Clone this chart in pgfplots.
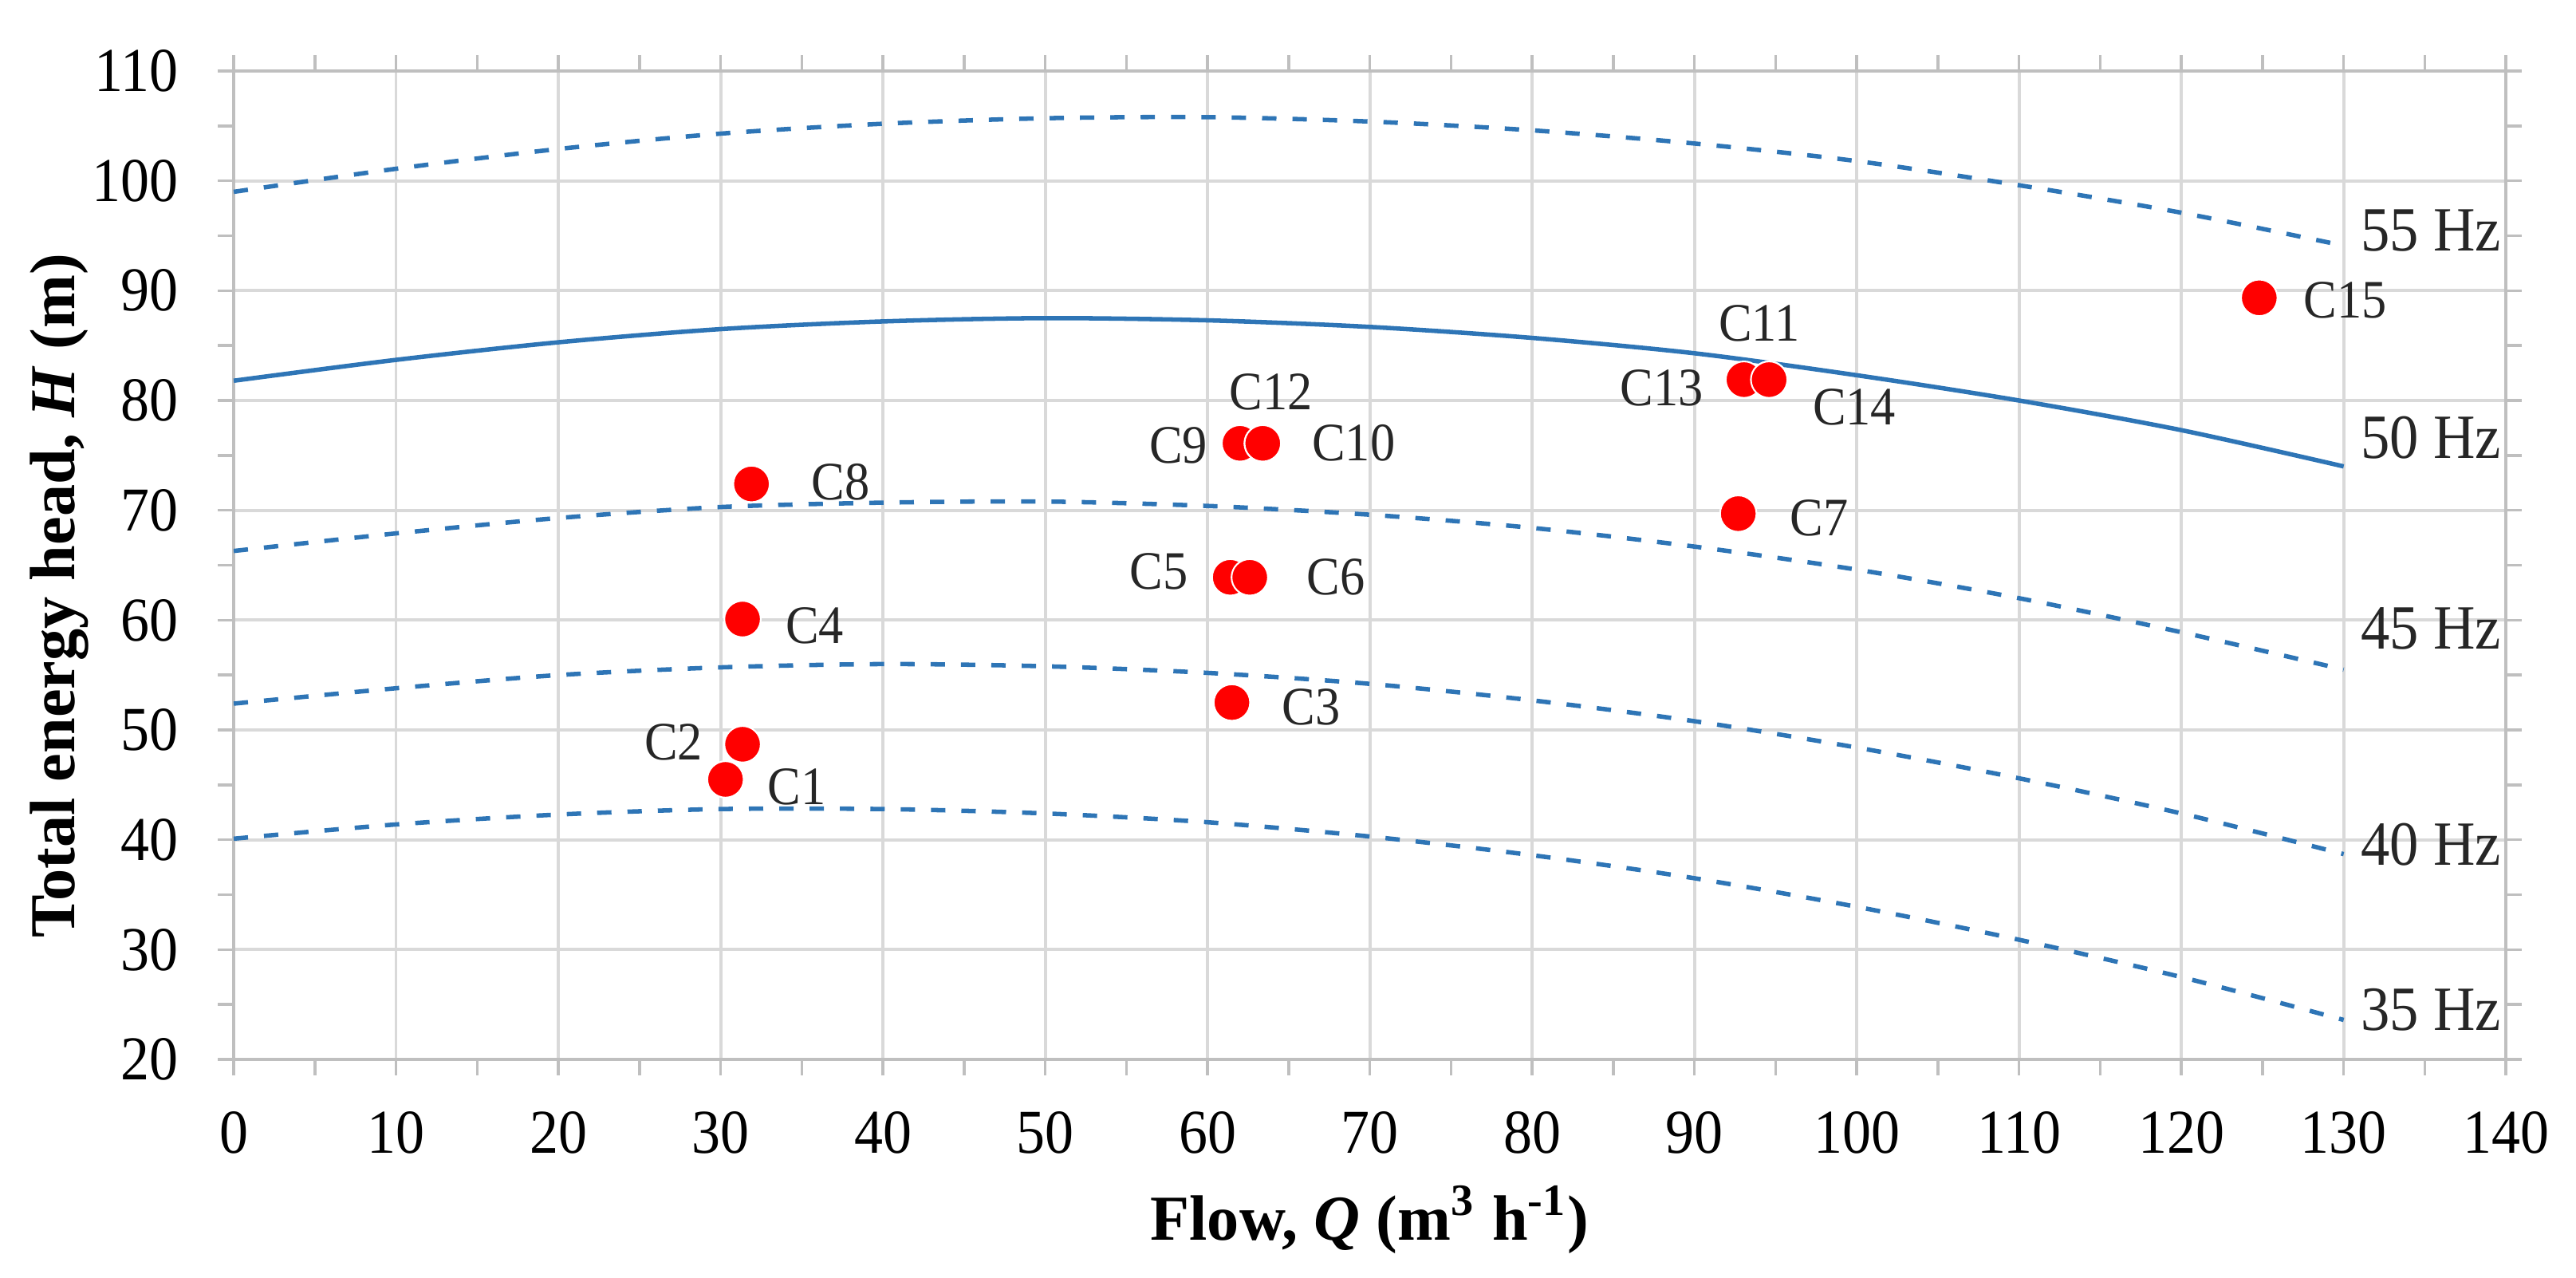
\documentclass[border=0pt]{standalone}
\usepackage{fontspec}
\setmainfont{Liberation Serif}
\newfontfamily\condserif[FakeStretch=0.92]{Liberation Serif}
\usepackage{pgfplots}
\pgfplotsset{compat=1.18}
\definecolor{curveblue}{RGB}{46,117,182}
\definecolor{gridgray}{RGB}{217,217,217}
\definecolor{axgray}{RGB}{191,191,191}
\begin{document}
\begin{tikzpicture}
\useasboundingbox (-1.488cm,-1.386cm) rectangle (14.912cm,6.743cm);
\begin{axis}[
  scale only axis,
  width=14.466cm, height=6.291cm,
  xmin=0, xmax=140, ymin=20, ymax=110,
  xtick={0,10,...,140}, ytick={20,30,...,110},
  minor x tick num=1, minor y tick num=1,
  grid=major,
  major grid style={line width=0.55pt, color=gridgray},
  axis line style={line width=0.6pt, color=axgray},
  tick align=outside,
  major tick length=0.1cm, minor tick length=0.1cm,
  every tick/.style={color=axgray, line width=0.5pt},
  /pgf/number format/assume math mode=true,
  tick label style={font=\condserif\fontsize{11.3}{13}\selectfont, text=black},
  xticklabel style={anchor=base, yshift=-0.498cm},
  yticklabel style={anchor=east, inner sep=0pt, xshift=-0.245cm},
  xlabel={\textbf{Flow, \textit{Q} (m\textsuperscript{3} h\textsuperscript{-1})}},
  ylabel={\textbf{Total energy head, \textit{H} (m)}},
  label style={font=\fontsize{11.6}{13}\selectfont},
  xlabel style={at={(axis description cs:0.5,-0.1824)}, anchor=base, inner sep=0pt},
  ylabel style={at={(axis description cs:-0.0702,0.469)}, anchor=base, inner sep=0pt},
  clip=false,
]
% 55 Hz
\addplot[curveblue, line width=0.8pt, dash pattern=on 2.6pt off 2.9pt, smooth] coordinates {
(0,99.0) (10,101.1) (20,102.9) (30,104.3) (40,105.2) (50,105.7) (60,105.8) (70,105.4) (80,104.6) (90,103.4) (100,101.8) (110,99.6) (120,97.1) (130,94.1)};
% 50 Hz
\addplot[curveblue, line width=0.8pt, smooth] coordinates {
(0,81.8) (10,83.7) (20,85.3) (30,86.5) (40,87.2) (50,87.5) (60,87.3) (70,86.7) (80,85.7) (90,84.3) (100,82.3) (110,80.0) (120,77.3) (130,74.0)};
% 45 Hz
\addplot[curveblue, line width=0.8pt, dash pattern=on 2.6pt off 2.9pt, smooth] coordinates {
(0,66.3) (10,67.9) (20,69.3) (30,70.3) (40,70.7) (50,70.8) (60,70.4) (70,69.6) (80,68.4) (90,66.7) (100,64.6) (110,62.0) (120,58.9) (130,55.5)};
% 40 Hz
\addplot[curveblue, line width=0.8pt, dash pattern=on 2.6pt off 2.9pt, smooth] coordinates {
(0,52.4) (10,53.8) (20,55.0) (30,55.7) (40,56.0) (50,55.8) (60,55.2) (70,54.2) (80,52.7) (90,50.8) (100,48.4) (110,45.6) (120,42.4) (130,38.7)};
% 35 Hz
\addplot[curveblue, line width=0.8pt, dash pattern=on 2.6pt off 2.9pt, smooth] coordinates {
(0,40.1) (10,41.4) (20,42.3) (30,42.8) (40,42.8) (50,42.4) (60,41.6) (70,40.3) (80,38.6) (90,36.5) (100,33.9) (110,30.9) (120,27.5) (130,23.6)};
% measured points C1..C15 (C11 under C14, C12 under C10)
\addplot[only marks, mark=*, mark size=3.3pt, mark options={fill=red, draw=white, line width=0.3pt}] coordinates {
(30.3,45.5) (31.35,48.7) (61.5,52.5) (31.35,60.1) (61.4,63.9) (62.6,63.9) (92.7,69.7) (31.9,72.4) (62.0,76.1) (94.6,81.9) (63.4,76.1) (63.4,76.1) (93.05,81.9) (94.6,81.9) (124.8,89.35)};
% point labels
\begin{scope}[every node/.style={font=\condserif\fontsize{9.8}{11}\selectfont, text=black!85, inner sep=0pt}]
\node at (axis cs:34.7,44.8) {C1};
\node at (axis cs:27.1,48.9) {C2};
\node at (axis cs:66.4,52.1) {C3};
\node at (axis cs:35.8,59.5) {C4};
\node at (axis cs:57.0,64.4) {C5};
\node at (axis cs:67.9,63.9) {C6};
\node at (axis cs:97.7,69.3) {C7};
\node at (axis cs:37.4,72.6) {C8};
\node at (axis cs:58.2,75.9) {C9};
\node at (axis cs:69.0,76.1) {C10};
\node at (axis cs:94.0,87.05) {C11};
\node at (axis cs:63.9,80.8) {C12};
\node at (axis cs:88.0,81.15) {C13};
\node at (axis cs:99.85,79.4) {C14};
\node at (axis cs:130.1,89.1) {C15};
\end{scope}
% frequency labels
\begin{scope}[every node/.style={font=\condserif\fontsize{11.4}{13}\selectfont, text=black!85, inner sep=0pt, anchor=west}]
\node at (axis cs:131.0,95.5) {55 Hz};
\node at (axis cs:131.0,76.6) {50 Hz};
\node at (axis cs:131.0,59.2) {45 Hz};
\node at (axis cs:131.0,39.6) {40 Hz};
\node at (axis cs:131.0,24.5) {35 Hz};
\end{scope}
\end{axis}
\end{tikzpicture}
\end{document}
